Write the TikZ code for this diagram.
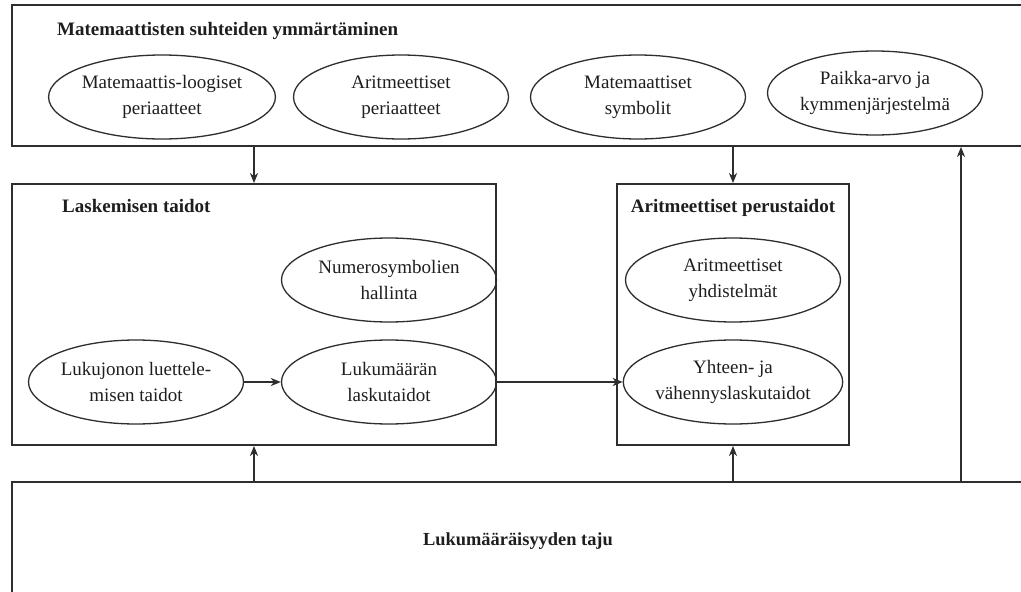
\documentclass[tikz,border=0pt]{standalone}
\usepackage{fontspec}
\setmainfont{Liberation Serif}
\usetikzlibrary{shapes.geometric,arrows.meta}
\definecolor{linec}{HTML}{2E2E2E}
\definecolor{txt}{HTML}{1E1E1E}
\begin{document}
\begin{tikzpicture}[x=1pt,y=-1pt,
  bigbox/.style={draw=linec, line width=1.8pt, rectangle, inner sep=0pt},
  oval/.style={draw=linec, line width=1.3pt, ellipse, minimum width=215pt, minimum height=84pt, inner sep=0pt, align=center, font=\fontsize{19}{26}\selectfont, text=txt},
  ttl/.style={font=\bfseries\fontsize{19}{24}\selectfont, text=txt, inner sep=0pt},
  arr/.style={draw=linec, line width=1.5pt, -{Stealth[length=10pt,width=8pt,inset=3pt]}}]
\useasboundingbox (0,0) rectangle (1021,592);
\fill[white] (0,0) rectangle (1021,592);
\clip (0,0) rectangle (1021,592);

% boxes
\node[bigbox, minimum width=1028pt, minimum height=141pt] (top) at (526,75.5) {};
\node[bigbox, minimum width=484pt, minimum height=261pt] (lask) at (254,314.5) {};
\node[bigbox, minimum width=232pt, minimum height=261pt] (arit) at (733,314.5) {};
\node[bigbox, minimum width=1028pt, minimum height=138pt] (bot) at (526,551) {};

% titles
\node[ttl, anchor=base west] (t1) at (57,35) {Matemaattisten suhteiden ymmärtäminen};
\node[ttl, anchor=base west] (t2) at (62,212) {Laskemisen taidot};
\node[ttl, anchor=base] (t3) at (733,212) {Aritmeettiset perustaidot};
\node[ttl, anchor=base, font=\bfseries\fontsize{18.4}{24}\selectfont] (t4) at (518,545) {Lukumääräisyyden taju};

% ellipses
\node[oval] (e1) at (162,97) {Matemaattis-loogiset\\periaatteet};
\node[oval] (e2) at (401,97) {Aritmeettiset\\periaatteet};
\node[oval] (e3) at (638,97) {Matemaattiset\\symbolit};
\node[oval] (e4) at (875,93) {Paikka-arvo ja\\kymmenjärjestelmä};
\node[oval] (num) at (389,280) {Numerosymbolien\\hallinta};
\node[oval] (jono) at (136,382) {Lukujonon luettele-\\misen taidot};
\node[oval] (maara) at (389,382) {Lukumäärän\\laskutaidot};
\node[oval] (yhd) at (733,280) {Aritmeettiset\\yhdistelmät};
\node[oval] (yht) at (733,382) {Yhteen- ja\\vähennyslaskutaidot};

% connectors
\coordinate (upx) at (961,0);
\draw[arr] (lask.north |- top.south) -- (lask.north);
\draw[arr] (arit.north |- top.south) -- (arit.north);
\draw[arr] (lask.south |- bot.north) -- (lask.south);
\draw[arr] (arit.south |- bot.north) -- (arit.south);
\draw[arr] (upx |- bot.north) -- (upx |- top.south);
\draw[arr] (jono) -- (maara);
\draw[arr] (maara) -- (yht);
\end{tikzpicture}
\end{document}
